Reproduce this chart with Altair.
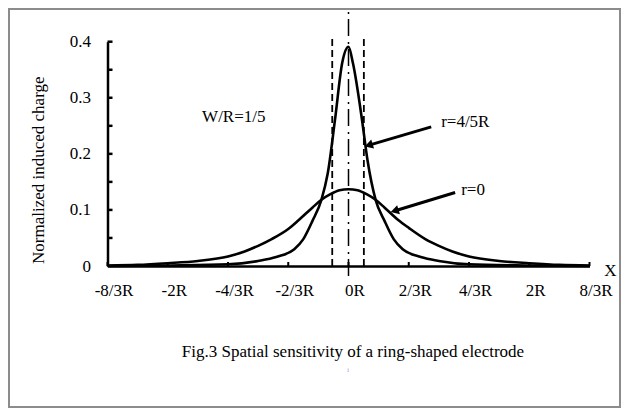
import json
import altair as alt
import pandas as pd

FONT = "Liberation Serif"
FS = 17

# ---- data ----
tick_vals = [-8/3, -2, -4/3, -2/3, 0, 2/3, 4/3, 2, 8/3]
tick_labels = ["-8/3R", "-2R", "-4/3R", "-2/3R", "0R", "2/3R", "4/3R", "2R", "8/3R"]
y_label_vals = [0, 0.1, 0.2, 0.3, 0.4]
y_minor_vals = [0.05, 0.1, 0.15, 0.2, 0.25, 0.3, 0.35, 0.4]

x_r0 = [-8/3, -7/3, -2, -5/3, -4/3, -1.15, -1.0, -0.85, -2/3, -0.55, -0.4, -0.3, -0.2, -0.1, 0.0,
        0.1, 0.2, 0.3, 0.4, 0.55, 2/3, 0.85, 1.0, 1.15, 4/3, 5/3, 2, 7/3, 8/3]
y_r0 = [0.001, 0.002, 0.005, 0.009, 0.017, 0.026, 0.036, 0.048, 0.066, 0.082, 0.104, 0.118, 0.128, 0.135, 0.137,
        0.135, 0.128, 0.118, 0.104, 0.082, 0.068, 0.048, 0.036, 0.026, 0.017, 0.009, 0.005, 0.002, 0.001]

x_r45 = [-8/3, -2, -4/3, -1.0, -0.8, -0.6, -0.5, -0.4, -0.3, -0.23, -0.15, -0.07, 0.0,
         0.05, 0.15, 0.21, 0.3, 0.4, 0.5, 0.6, 0.8, 1.0, 4/3, 2, 8/3]
y_r45 = [0.0, 0.001, 0.003, 0.009, 0.016, 0.03, 0.048, 0.08, 0.118, 0.165, 0.26, 0.362, 0.391,
         0.361, 0.26, 0.189, 0.118, 0.08, 0.048, 0.03, 0.016, 0.009, 0.003, 0.001, 0.0]

electrode_edges = [-0.18, 0.17]
electrode_top = 0.412
center_line = [-0.018, 0.458]

arrow_tail_x = [0.915, 1.18]
arrow_tail_y = [0.248, 0.131]
arrow_head_x = [0.238, 0.525]
arrow_head_y = [0.216, 0.099]
arrow_text = ["r=4/5R", "r=0"]
arrow_text_x = [1.025, 1.247]
arrow_text_y = [0.256, 0.1355]

note_text = ["W/R=1/5"]
note_x = [-1.62]
note_y = [0.266]

caption = "Fig.3 Spatial sensitivity of a ring-shaped electrode"

# ---- layout ----
W, H = 482, 224.3

curves = pd.DataFrame({
    "x": x_r0 + x_r45,
    "y": y_r0 + y_r45,
    "series": ["r=0"] * len(x_r0) + ["r=4/5R"] * len(x_r45),
})

sx = alt.Scale(domain=[-8/3, 8/3], nice=False, zero=False)
sy = alt.Scale(domain=[0, 0.4], nice=False, zero=False)

xaxis = alt.Axis(
    values=tick_vals, ticks=False, grid=False, domainWidth=2.5, domainColor="black",
    labelExpr=json.dumps(tick_labels) + "[round(datum.value*1.5)+4]",
    labelFont=FONT, labelFontSize=FS, labelColor="black", labelPadding=16, labelOffset=6,
    labelFlush=False, labelOverlap=False, labelBound=False,
)
yaxis = alt.Axis(
    values=y_label_vals, ticks=False, grid=False, domainWidth=2.5, domainColor="black",
    labelExpr="datum.value == 0 ? '0' : format(datum.value, '.1f')",
    labelFont=FONT, labelFontSize=FS, labelColor="black", labelPadding=17,
    title="Normalized induced charge", titleFont=FONT, titleFontSize=FS, titleFontWeight="normal",
    titleColor="black", titleX=-69, titleY=128, titleAngle=270, titleAlign="center", titleBaseline="middle",
)


def X(f):
    return alt.X(f, type="quantitative", scale=sx, axis=xaxis, title=None)


def Y(f):
    return alt.Y(f, type="quantitative", scale=sy, axis=yaxis, title="Normalized induced charge")


lines = alt.Chart(curves).mark_line(color="black", strokeWidth=2.6, interpolate="monotone").encode(
    x=X("x"), y=Y("y"), detail="series:N"
)

edges = alt.Chart(pd.DataFrame({"x": electrode_edges, "y": [0] * 2, "y2": [electrode_top] * 2})).mark_rule(
    color="black", strokeWidth=1.8, strokeDash=[7, 4]
).encode(x=X("x"), y=Y("y"), y2="y2:Q")

center = alt.Chart(pd.DataFrame({"x": [0], "y": [center_line[0]], "y2": [center_line[1]]})).mark_rule(
    color="black", strokeWidth=1.5, strokeDash=[17, 5, 2, 6]
).encode(x=X("x"), y=Y("y"), y2="y2:Q")

arrows_df = pd.DataFrame({"x": arrow_tail_x, "y": arrow_tail_y, "x2": arrow_head_x, "y2": arrow_head_y})
arrow_lines = alt.Chart(arrows_df).mark_rule(color="black", strokeWidth=3).encode(
    x=X("x"), y=Y("y"), x2="x2:Q", y2="y2:Q"
)
arrow_heads = alt.Chart(arrows_df).mark_point(
    shape="triangle", filled=True, size=90, angle=253, color="black", opacity=1
).encode(x=X("x2"), y=Y("y2"))

labels_df = pd.DataFrame({"x": arrow_text_x + note_x, "y": arrow_text_y + note_y, "t": arrow_text + note_text})
labels = alt.Chart(labels_df).mark_text(
    font=FONT, fontSize=FS, color="black", align="left", baseline="middle"
).encode(x=X("x"), y=Y("y"), text="t:N")

yticks = alt.Chart(pd.DataFrame({"y": y_minor_vals})).mark_rule(color="black", strokeWidth=2.5).encode(
    y=Y("y"), x=alt.value(0), x2=alt.value(5)
)
xticks = alt.Chart(pd.DataFrame({"x": tick_vals})).mark_rule(color="black", strokeWidth=2).encode(
    x=X("x"), y=alt.value(H), y2=alt.value(H - 4)
)

one = pd.DataFrame({"a": [0]})
x_name = alt.Chart(one).mark_text(font=FONT, fontSize=FS, color="black", align="center", baseline="middle").encode(
    x=alt.value(W + 21), y=alt.value(H + 5), text=alt.value("X")
)
cap = alt.Chart(one).mark_text(font=FONT, fontSize=FS, color="black", align="center", baseline="middle").encode(
    x=alt.value(245.5), y=alt.value(310), text=alt.value(caption)
)
mark_i = alt.Chart(one).mark_text(font=FONT, fontSize=6, color="#8a8ad6", align="center", baseline="middle").encode(
    x=alt.value(240.5), y=alt.value(328), text=alt.value("i")
)
border = alt.Chart(one).mark_rect(fillOpacity=0, stroke="#8c8c8c", strokeWidth=2).encode(
    x=alt.value(-98.5), x2=alt.value(W + 30.5), y=alt.value(-32.7), y2=alt.value(H + 141)
)

chart = alt.layer(
    border, edges, center, lines, arrow_lines, arrow_heads, labels, yticks, xticks, x_name, cap, mark_i
).properties(
    width=W, height=H,
    autosize=alt.AutoSizeParams(type="none"),
    padding={"left": 99.5, "top": 33.7, "right": 31.5, "bottom": 142},
    background="white",
).configure(font=FONT).configure_view(stroke=None)

chart.save("out.html", embed_options={"renderer": "svg", "actions": False})
